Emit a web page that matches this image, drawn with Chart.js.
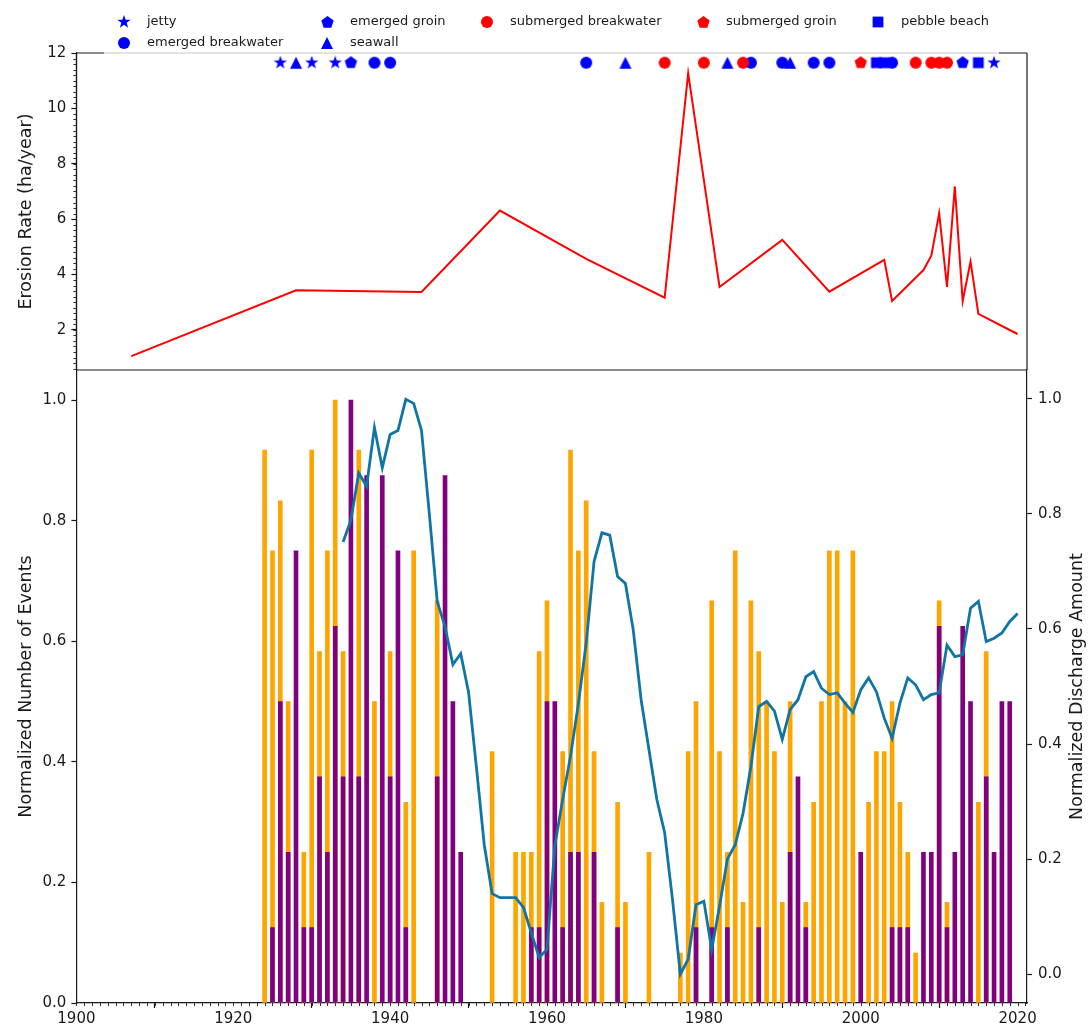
<!DOCTYPE html>
<html>
<head>
<meta charset="utf-8">
<script src="https://cdn.jsdelivr.net/npm/chart.js@4.4.1/dist/chart.umd.min.js"></script>
<style>
  html, body { margin: 0; padding: 0; background: #fff; }
  #wrap { position: relative; width: 1091px; height: 1029px; }
  #wrap canvas { position: absolute; left: 0; top: 0; }
</style>
</head>
<body>
<div id="wrap">
  <canvas id="erosionChart" width="1091" height="1029"></canvas>
  <canvas id="eventsChart" width="1091" height="1029"></canvas>
</div>
<script>
/* ---- erosion rate survey (ha/year) ---- */
const erosionYears = [1907, 1928, 1944, 1954, 1965, 1975, 1978, 1982, 1990, 1996, 2003, 2004,
  2008, 2009, 2010, 2011, 2012, 2013, 2014, 2015, 2020];
const erosionRates = [1.05, 3.43, 3.37, 6.31, 4.56, 3.16, 11.27, 3.55, 5.25, 3.38, 4.53, 3.04,
  4.16, 4.68, 6.21, 3.55, 7.18, 3.04, 4.47, 2.58, 1.85];

/* ---- construction years of coastal structures ---- */
const jettyYears = [1926, 1930, 1933, 2017];
const emergedBreakwaterYears = [1938, 1940, 1965, 1986, 1990, 1994, 1996, 2004];
const emergedGroinYears = [1935, 2013];
const seawallYears = [1928, 1970, 1983, 1991];
const submergedBreakwaterYears = [1975, 1980, 1985, 2007, 2009, 2010, 2011];
const submergedGroinYears = [2000];
const pebbleBeachYears = [2002, 2003, 2015];
const structureRow = 11.65;

/* ---- yearly events, 1924..2019 (normalized) ---- */
const firstEventYear = 1924;
const eventsOrange = [
  0.917, 0.75, 0.833, 0.5, 0, 0.25, 0.917, 0.583, 0.75, 1.0,      // 1924-1933
  0.583, 0, 0.917, 0, 0.5, 0, 0.583, 0, 0.333, 0.75,               // 1934-1943
  0, 0, 0.667, 0, 0, 0, 0, 0, 0, 0.417,                            // 1944-1953
  0, 0, 0.25, 0.25, 0.25, 0.583, 0.667, 0, 0.417, 0.917,           // 1954-1963
  0.75, 0.833, 0.417, 0.167, 0, 0.333, 0.167, 0, 0, 0.25,          // 1964-1973
  0, 0, 0, 0.083, 0.417, 0.5, 0, 0.667, 0.417, 0.25,               // 1974-1983
  0.75, 0.167, 0.667, 0.583, 0.5, 0.417, 0.167, 0.5, 0, 0.167,     // 1984-1993
  0.333, 0.5, 0.75, 0.75, 0.5, 0.75, 0, 0.333, 0.417, 0.417,       // 1994-2003
  0.5, 0.333, 0.25, 0.083, 0, 0, 0.667, 0.167, 0, 0,               // 2004-2013
  0, 0.333, 0.583, 0, 0, 0                                         // 2014-2019
];
const eventsPurple = [
  0, 0.125, 0.5, 0.25, 0.75, 0.125, 0.125, 0.375, 0.25, 0.625,     // 1924-1933
  0.375, 1.0, 0.375, 0.875, 0, 0.875, 0.375, 0.75, 0.125, 0,       // 1934-1943
  0, 0, 0.375, 0.875, 0.5, 0.25, 0, 0, 0, 0,                       // 1944-1953
  0, 0, 0, 0, 0.125, 0.125, 0.5, 0.5, 0.125, 0.25,                 // 1954-1963
  0.25, 0, 0.25, 0, 0, 0.125, 0, 0, 0, 0,                          // 1964-1973
  0, 0, 0, 0, 0, 0.125, 0, 0.125, 0, 0.125,                        // 1974-1983
  0, 0, 0, 0.125, 0, 0, 0, 0.25, 0.375, 0.125,                     // 1984-1993
  0, 0, 0, 0, 0, 0, 0.25, 0, 0, 0,                                 // 1994-2003
  0.125, 0.125, 0.125, 0, 0.25, 0.25, 0.625, 0.125, 0.25, 0.625,   // 2004-2013
  0.5, 0, 0.375, 0.25, 0.5, 0.5                                    // 2014-2019
];

/* ---- normalized discharge, 1934..2020 ---- */
const firstDischargeYear = 1934;
const discharge = [
  0.751, 0.789, 0.871, 0.848, 0.950, 0.880, 0.938, 0.945, 0.999, 0.992,   // 1934-1943
  0.945, 0.800, 0.648, 0.604, 0.538, 0.557, 0.490, 0.360, 0.225, 0.140,   // 1944-1953
  0.133, 0.133, 0.133, 0.116, 0.072, 0.029, 0.043, 0.223, 0.304, 0.379,   // 1954-1963
  0.470, 0.576, 0.717, 0.767, 0.763, 0.691, 0.679, 0.598, 0.477, 0.390,   // 1964-1973
  0.304, 0.246, 0.130, 0.000, 0.026, 0.121, 0.127, 0.043, 0.118, 0.200,   // 1974-1983
  0.225, 0.280, 0.361, 0.465, 0.474, 0.457, 0.408, 0.460, 0.477, 0.517,   // 1984-1993
  0.526, 0.497, 0.486, 0.489, 0.471, 0.455, 0.494, 0.515, 0.491, 0.445,   // 1994-2003
  0.410, 0.471, 0.515, 0.503, 0.477, 0.486, 0.489, 0.572, 0.552, 0.555,   // 2004-2013
  0.636, 0.648, 0.578, 0.584, 0.593, 0.613, 0.627                        // 2014-2020
];

/* ---- axis ticks ---- */
const yearTicks = [1900, 1920, 1940, 1960, 1980, 2000, 2020];
const erosionTicks = [2, 4, 6, 8, 10, 12];
const normTicks = [0.0, 0.2, 0.4, 0.6, 0.8, 1.0];

const FONT = "'DejaVu Sans', sans-serif";
const INK = '#1a1a1a';
const ORANGE = '#ffa500';
const PURPLE = '#800080';
const BLUE = '#0000ff';
const RED = '#ff0000';
const LINE_BLUE = '#0f75a6';

Chart.defaults.font.family = FONT;
Chart.defaults.color = INK;

// matplotlib-like filled marker sprites
function makeMarker(shape, color, r) {
  const size = Math.ceil(r * 2 + 2);
  const c = document.createElement('canvas');
  c.width = c.height = size;
  const g = c.getContext('2d');
  const m = size / 2;
  g.fillStyle = color;
  g.beginPath();
  if (shape === 'circle') {
    g.arc(m, m, r, 0, Math.PI * 2);
  } else if (shape === 'square') {
    g.rect(m - r * 0.9, m - r * 0.9, r * 1.8, r * 1.8);
  } else if (shape === 'triangle') {
    g.moveTo(m, m - r);
    g.lineTo(m + r, m + r);
    g.lineTo(m - r, m + r);
  } else {
    const n = shape === 'star' ? 10 : 5;
    for (let i = 0; i < n; i++) {
      const a = -Math.PI / 2 + i * 2 * Math.PI / n;
      const rr = (shape === 'star' && i % 2) ? r * 0.4 : r;
      const px = m + rr * Math.cos(a), py = m + rr * Math.sin(a);
      i ? g.lineTo(px, py) : g.moveTo(px, py);
    }
  }
  g.closePath();
  g.fill();
  return c;
}

// slot = [column, row] in the 5-column legend (first two columns hold two entries)
const structures = [
  { label: 'jetty', years: jettyYears, sprite: makeMarker('star', BLUE, 7), order: 3, slot: [0, 0] },
  { label: 'emerged breakwater', years: emergedBreakwaterYears, sprite: makeMarker('circle', BLUE, 6), order: 3, slot: [0, 1] },
  { label: 'emerged groin', years: emergedGroinYears, sprite: makeMarker('pentagon', BLUE, 6.5), order: 3, slot: [1, 0] },
  { label: 'seawall', years: seawallYears, sprite: makeMarker('triangle', BLUE, 6), order: 3, slot: [1, 1] },
  { label: 'submerged breakwater', years: submergedBreakwaterYears, sprite: makeMarker('circle', RED, 6), order: 1, slot: [2, 0] },
  { label: 'submerged groin', years: submergedGroinYears, sprite: makeMarker('pentagon', RED, 6.5), order: 1, slot: [3, 0] },
  { label: 'pebble beach', years: pebbleBeachYears, sprite: makeMarker('square', BLUE, 6), order: 2, slot: [4, 0] }
];

const tickFont = { family: FONT, size: 15 };
const titleFont = { family: FONT, size: 17.5 };

// short unlabeled ticks between the major ones
const minorTicks = {
  id: 'minorTicks',
  afterDraw(chart, args, opts) {
    const { ctx, chartArea } = chart;
    ctx.save();
    ctx.strokeStyle = INK;
    ctx.lineWidth = 0.9;
    (opts.marks || []).forEach(m => {
      const scale = chart.scales[m.axis];
      for (let k = 0; ; k++) {
        const v = m.from + k * m.step;
        if (v > m.to + 1e-9) break;
        const p = Math.round(scale.getPixelForValue(v)) + 0.5;
        ctx.beginPath();
        if (scale.isHorizontal()) {
          ctx.moveTo(p, chartArea.bottom);
          ctx.lineTo(p, chartArea.bottom + m.length);
        } else {
          ctx.moveTo(chartArea.left, p);
          ctx.lineTo(chartArea.left - m.length, p);
        }
        ctx.stroke();
      }
    });
    ctx.restore();
  }
};

/* ------------------------------------------------
   Top panel: erosion rate + structure timeline
------------------------------------------------ */
const topFrame = {
  id: 'topFrame',
  afterDraw(chart) {
    const { ctx, chartArea: a } = chart;
    ctx.save();
    ctx.lineWidth = 1.2;
    ctx.strokeStyle = INK;
    ctx.beginPath();
    ctx.moveTo(a.left, a.top); ctx.lineTo(a.left, a.bottom);
    ctx.moveTo(a.right, a.top); ctx.lineTo(a.right, a.bottom);
    ctx.moveTo(a.left, a.top); ctx.lineTo(104, a.top);
    ctx.moveTo(999, a.top); ctx.lineTo(a.right, a.top);
    ctx.stroke();
    // spine seen through the legend background
    ctx.strokeStyle = '#c8c8c8';
    ctx.beginPath();
    ctx.moveTo(104, a.top); ctx.lineTo(999, a.top);
    ctx.stroke();

    // legend entries
    const colX = [124, 327, 487, 703, 878];
    const rowY = [22, 43];
    ctx.font = '13px ' + FONT;
    ctx.fillStyle = INK;
    ctx.textBaseline = 'middle';
    structures.forEach(s => {
      const x = colX[s.slot[0]];
      const y = rowY[s.slot[1]];
      ctx.drawImage(s.sprite, Math.round(x - s.sprite.width / 2), Math.round(y - s.sprite.height / 2));
      ctx.fillText(s.label, x + 23, y);
    });
    ctx.restore();
  }
};

new Chart(document.getElementById('erosionChart'), {
  type: 'scatter',
  data: {
    datasets: [
      {
        type: 'line',
        data: erosionYears.map((x, i) => ({ x, y: erosionRates[i] })),
        borderColor: RED,
        borderWidth: 2,
        pointRadius: 0,
        tension: 0,
        order: 4
      },
      ...structures.map(s => ({
        label: s.label,
        data: s.years.map(x => ({ x, y: structureRow })),
        pointStyle: s.sprite,
        pointRadius: 6,
        order: s.order
      }))
    ]
  },
  options: {
    responsive: false,
    animation: false,
    devicePixelRatio: 1,
    layout: { padding: { top: 53, left: 0, right: 64, bottom: 659 } },
    plugins: {
      legend: { display: false },
      tooltip: { enabled: false },
      minorTicks: { marks: [{ axis: 'y', from: 0.6, to: 12, step: 0.2, length: 3 }] }
    },
    scales: {
      x: { type: 'linear', display: false, min: 1900, max: 2021.2 },
      y: {
        min: 0.55,
        max: 12,
        afterFit: s => { s.width = 76.4; },
        afterBuildTicks: s => { s.ticks = erosionTicks.map(v => ({ value: v })); },
        border: { display: true, color: INK, width: 1.2 },
        grid: { drawOnChartArea: false, tickLength: 5, tickColor: INK, tickWidth: 1.2 },
        ticks: { font: tickFont, color: INK, padding: 5, callback: v => String(v) },
        title: { display: true, text: 'Erosion Rate (ha/year)', font: titleFont, color: INK, padding: { top: 16 } }
      }
    }
  },
  plugins: [minorTicks, topFrame]
});

/* ------------------------------------------------
   Bottom panel: events (bars) + discharge (line)
------------------------------------------------ */
const bottomFrame = {
  id: 'bottomFrame',
  afterDraw(chart) {
    const { ctx, chartArea: a } = chart;
    ctx.save();
    ctx.strokeStyle = INK;
    ctx.lineWidth = 1.2;
    ctx.beginPath();
    ctx.moveTo(a.left, a.top); ctx.lineTo(a.right, a.top);
    ctx.stroke();
    // right-hand axis title reads bottom to top
    ctx.translate(1077, (a.top + a.bottom) / 2);
    ctx.rotate(-Math.PI / 2);
    ctx.font = '17.5px ' + FONT;
    ctx.fillStyle = INK;
    ctx.textAlign = 'center';
    ctx.textBaseline = 'middle';
    ctx.fillText('Normalized Discharge Amount', 0, 0);
    ctx.restore();
  }
};

const barPoints = vals => vals
  .map((y, i) => ({ x: firstEventYear + i, y }))
  .filter(p => p.y > 0);

new Chart(document.getElementById('eventsChart'), {
  type: 'bar',
  data: {
    datasets: [
      {
        type: 'line',
        data: discharge.map((y, i) => ({ x: firstDischargeYear + i, y })),
        yAxisID: 'y2',
        borderColor: LINE_BLUE,
        borderWidth: 2.8,
        pointRadius: 0,
        tension: 0,
        order: 0
      },
      {
        data: barPoints(eventsPurple),
        backgroundColor: PURPLE,
        barThickness: 4,
        grouped: false,
        order: 1
      },
      {
        data: barPoints(eventsOrange),
        backgroundColor: ORANGE,
        barThickness: 4,
        grouped: false,
        order: 2
      }
    ]
  },
  options: {
    responsive: false,
    animation: false,
    devicePixelRatio: 1,
    layout: { padding: { top: 370, left: 0, right: 0, bottom: 0 } },
    plugins: {
      legend: { display: false },
      tooltip: { enabled: false },
      minorTicks: { marks: [{ axis: 'x', from: 1900, to: 2021, step: 1, length: 3 }] }
    },
    scales: {
      x: {
        type: 'linear',
        min: 1900,
        max: 2021.2,
        offset: false,
        afterFit: s => { s.height = 26; },
        afterBuildTicks: s => { s.ticks = yearTicks.map(v => ({ value: v })); },
        border: { display: true, color: INK, width: 1.2 },
        grid: { drawOnChartArea: false, tickLength: 5, tickColor: INK, tickWidth: 1.2 },
        ticks: { font: tickFont, color: INK, padding: 2, maxRotation: 0, callback: v => String(v) }
      },
      y: {
        position: 'left',
        min: 0,
        max: 1.05,
        afterFit: s => { s.width = 76.4; },
        afterBuildTicks: s => { s.ticks = normTicks.map(v => ({ value: v })); },
        border: { display: true, color: INK, width: 1.2 },
        grid: { drawOnChartArea: false, tickLength: 5, tickColor: INK, tickWidth: 1.2 },
        ticks: { font: tickFont, color: INK, padding: 5, callback: v => v.toFixed(1) },
        title: { display: true, text: 'Normalized Number of Events', font: titleFont, color: INK, padding: { top: 16 } }
      },
      y2: {
        position: 'right',
        min: -0.05,
        max: 1.05,
        afterFit: s => { s.width = 64; },
        afterBuildTicks: s => { s.ticks = normTicks.map(v => ({ value: v })); },
        border: { display: true, color: INK, width: 1.2 },
        grid: { drawOnChartArea: false, tickLength: 5, tickColor: INK, tickWidth: 1.2 },
        ticks: { font: tickFont, color: INK, padding: 6, callback: v => v.toFixed(1) }
      }
    }
  },
  plugins: [minorTicks, bottomFrame]
});
</script>
</body>
</html>
